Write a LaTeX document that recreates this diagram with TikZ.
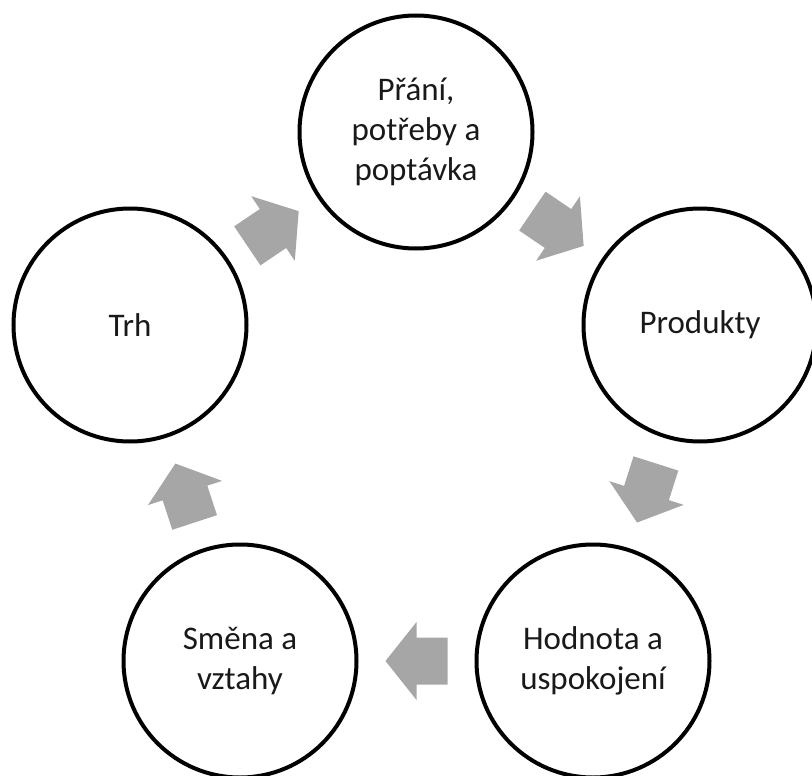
\documentclass[tikz,border=0pt]{standalone}
\usepackage{fontspec}
\setmainfont{Carlito}
\usetikzlibrary{calc}
\definecolor{arrowgray}{RGB}{166,166,166}
\begin{document}
\begin{tikzpicture}[x=1pt, y=-1pt,
 stage/.style={circle, draw, line width=4pt, minimum size=233pt, inner sep=0pt, align=center, text=black!90, font=\fontsize{33}{40}\selectfont},
 flow/.style={fill=arrowgray}]
 \useasboundingbox (0,0) rectangle (812,776);
 \node[stage] (prani) at (416,132) {Přání,\\potřeby a\\poptávka};
 \node[stage] (produkty) at (700,325) {Produkty};
 \node[stage] (hodnota) at (593,661) {Hodnota a\\uspokojení};
 \node[stage] (smena) at (240,661) {Směna a\\vztahy};
 \node[stage] (trh) at (130,325) {Trh};
 \foreach \a/\b in {prani/produkty, produkty/hodnota, hodnota/smena, smena/trh, trh/prani}
 {
     \pgfmathanglebetweenpoints{\pgfpointanchor{\a}{center}}{\pgfpointanchor{\b}{center}}
     \let\flowangle\pgfmathresult
     \fill[flow, shift={($(\a)!.5!(\b)$)}, rotate=\flowangle](-31,-23.5)--(0,-23.5)--(0,-39)--(31,0)--(0,39)--(0,23.5)--(-31,23.5)--cycle;
 }
\end{tikzpicture}
\end{document}
